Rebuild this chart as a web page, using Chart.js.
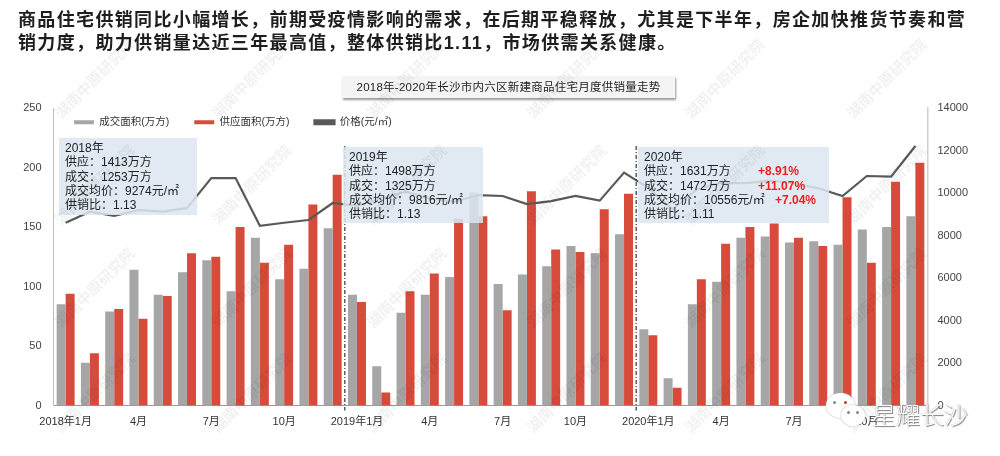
<!DOCTYPE html>
<html lang="zh">
<head>
<meta charset="utf-8">
<script src="https://cdn.jsdelivr.net/npm/chart.js@4/dist/chart.umd.min.js"></script>
<style>
html,body{margin:0;padding:0;background:#fff;width:1000px;height:456px;overflow:hidden}
body{position:relative;font-family:"Liberation Sans","Noto Sans CJK SC",sans-serif;color:#222}
#wrap{position:absolute;left:0;top:0;width:1000px;height:456px}
#head{position:absolute;left:18px;top:9px;width:975px;font-size:18px;font-weight:700;line-height:23px;letter-spacing:1.35px;color:#1e1e1e;font-family:"Liberation Sans","Noto Sans CJK SC",sans-serif}
#title{position:absolute;left:342px;top:76px;width:333px;height:22px;line-height:22px;background:#f4f4f4;box-shadow:1px 2px 2px #999;text-align:center;font-size:11.5px;color:#222;letter-spacing:.25px}
.note{position:absolute;background:rgba(220,230,241,.86);font-size:12px;line-height:14.3px;color:#222;padding:3px 0 0 6px;box-sizing:border-box;white-space:pre}
#n0{left:59px;top:138px;width:138px;height:77px}
#n1{left:343px;top:147px;width:140px;height:76px}
#n2{left:638px;top:147px;width:191px;height:76px}
.up{position:absolute;color:#f21c1c;font-size:12px;font-weight:700}
.wm{position:absolute;font-size:15px;font-weight:700;color:#000;opacity:.055;transform:translate(-50%,-50%) rotate(-45deg);white-space:nowrap;pointer-events:none}
.bub{position:absolute;background:#fff;border-radius:50%;box-shadow:0 0 2px #aaa}
.eye{position:absolute;width:3px;height:3px;border-radius:50%}
#brand{position:absolute;left:872px;top:396px;font-size:24px;letter-spacing:0;color:#fff;text-shadow:1px 1px 1px #777,-.5px -.5px 0 #bbb;font-family:"Noto Sans CJK SC",sans-serif;font-weight:300;white-space:nowrap}
</style>
</head>
<body>
<div id="wrap"><canvas id="c" width="1000" height="456"></canvas></div>
<div id="head"></div>
<div id="title"></div>
<div id="notes"></div>
<div id="marks"></div>
<div class="bub" style="left:826px;top:393px;width:29px;height:25px"><i class="eye" style="left:7px;top:8px;background:#888"></i><i class="eye" style="left:18px;top:8px;background:#c33"></i></div>
<div class="bub" style="left:841px;top:405px;width:24px;height:21px"><i class="eye" style="left:6px;top:6px;background:#888"></i><i class="eye" style="left:15px;top:6px;background:#888"></i></div>
<div id="brand"></div>
<script>
const months = ['2018年1月','','','4月','','','7月','','','10月','','',
                '2019年1月','','','4月','','','7月','','','10月','','',
                '2020年1月','','','4月','','','7月','','','10月','',''];
const dealArea = [85,36,79,114,93,112,122,96,141,106,115,149,
                  93,33,78,93,108,179,102,110,117,134,128,144,
                  64,23,85,104,141,142,137,138,135,148,150,159];
const supplyArea = [94,44,81,73,92,128,125,150,120,135,169,194,
                    87,11,96,111,157,159,80,180,131,129,165,178,
                    59,15,106,136,150,153,141,134,175,120,188,204];
const price = [8600,9120,8920,9200,9120,9290,10700,10700,8460,8600,8730,9530,
               9390,9750,10060,9750,9590,9900,9860,9480,9620,9860,9640,10960,
               10240,9230,10170,10490,10460,10580,10460,10220,9860,10800,10770,12210];
const seriesNames = ['成交面积(万方)','供应面积(万方)','价格(元/㎡)'];
const leftTicks = [0,50,100,150,200,250];
const rightTicks = [0,2000,4000,6000,8000,10000,12000,14000];
const headline = ['商品住宅供销同比小幅增长，前期受疫情影响的需求，在后期平稳释放，尤其是下半年，房企加快推货节奏和营',
                  '销力度，助力供销量达近三年最高值，整体供销比1.11，市场供需关系健康。'];
const chartTitle = '2018年-2020年长沙市内六区新建商品住宅月度供销量走势';
const notes2018 = ['2018年','供应：1413万方','成交：1253万方','成交均价：9274元/㎡','供销比：1.13'];
const notes2019 = ['2019年','供应：1498万方','成交：1325万方','成交均价：9816元/㎡','供销比：1.13'];
const notes2020 = ['2020年','供应：1631万方','成交：1472万方','成交均价：10556元/㎡','供销比：1.11'];
const growth2020 = ['+8.91%','+11.07%','+7.04%'];
const watermark = '湖南中原研究院';
const brand = '星耀长沙';
const yearStarts = [12,24];

document.getElementById('head').innerHTML = headline.join('<br>');
document.getElementById('title').textContent = chartTitle;
document.getElementById('brand').textContent = brand;

const notesEl = document.getElementById('notes');
[notes2018,notes2019,notes2020].forEach((lines,i)=>{
  const d=document.createElement('div');d.className='note';d.id='n'+i;d.textContent=lines.join('\n');notesEl.appendChild(d);
});
[[758,164],[758,178.5],[775,193]].forEach((p,i)=>{
  const s=document.createElement('div');s.className='up';s.style.left=p[0]+'px';s.style.top=p[1]+'px';s.textContent=growth2020[i];notesEl.appendChild(s);
});
const marksEl=document.getElementById('marks');
[94,251,406,566,724,886].forEach(x=>[78,184,287,392].forEach(y=>{
  const s=document.createElement('div');s.className='wm';s.style.left=x+'px';s.style.top=y+'px';s.textContent=watermark;marksEl.appendChild(s);
}));

const legendPlacer = {
  id:'legendPlacer',
  beforeLayout(chart){
    const lg=chart.legend;
    if(lg && !lg._patched){
      const f=lg.fit;
      lg.fit=function(){f.call(this);this.height=0;};
      lg._patched=true;
    }
  },
  afterLayout(chart){
    const lg=chart.legend;
    lg.left=49;lg.right=880;lg.top=92;lg.bottom=140;lg.width=831;lg.height=48;
  }
};
const yearLines = {
  id:'yearLines',
  afterDatasetsDraw(chart){
    const {ctx,scales:{x,y}}=chart;
    ctx.save();
    ctx.strokeStyle='#333';ctx.lineWidth=1.2;ctx.setLineDash([4,2,1,2]);
    yearStarts.forEach(i=>{
      const px=(x.getPixelForValue(i-1)+x.getPixelForValue(i))/2;
      ctx.beginPath();ctx.moveTo(px,y.getPixelForValue(218));ctx.lineTo(px,y.bottom+5);ctx.stroke();
    });
    ctx.restore();
  }
};
const font={family:'"Liberation Sans","Noto Sans CJK SC",sans-serif',size:11};
new Chart(document.getElementById('c'),{
  data:{labels:months,datasets:[
    {type:'line',label:seriesNames[2],data:price,yAxisID:'y1',borderColor:'#595959',backgroundColor:'#595959',borderWidth:2.2,pointRadius:0,tension:0,order:0},
    {type:'bar',label:seriesNames[0],data:dealArea,yAxisID:'y',backgroundColor:'#A6A6A6',barPercentage:1,categoryPercentage:.74,order:1},
    {type:'bar',label:seriesNames[1],data:supplyArea,yAxisID:'y',backgroundColor:'#D64B3A',barPercentage:1,categoryPercentage:.74,order:1}
  ]},
  options:{
    responsive:false,animation:false,devicePixelRatio:1,
    layout:{padding:{top:108,left:0,right:0,bottom:0}},
    plugins:{
      legend:{display:true,position:'top',align:'start',
        labels:{boxWidth:20,boxHeight:4,padding:25,color:'#333',font:{family:font.family,size:10.5},
          sort:(a,b)=>[2,0,1][a.datasetIndex]-[2,0,1][b.datasetIndex]}},
      tooltip:{enabled:false},title:{display:false}
    },
    scales:{
      x:{grid:{display:false},border:{color:'#9a9a9a'},
        ticks:{autoSkip:false,maxRotation:0,minRotation:0,color:'#333',font,padding:2},
        afterFit(s){s.height=50.5;}},
      y:{position:'left',min:0,max:250,grid:{display:false},border:{color:'#bdbdbd',width:1},
        afterBuildTicks(s){s.ticks=leftTicks.map(v=>({value:v}));},
        ticks:{color:'#444',font,padding:4},
        afterFit(s){s.width=53.5;}},
      y1:{position:'right',min:0,max:14000,grid:{display:false},border:{color:'#d0d0d0',width:1.5},
        afterBuildTicks(s){s.ticks=rightTicks.map(v=>({value:v}));},
        ticks:{color:'#444',font,padding:2,callback:v=>String(v)},
        afterFit(s){s.width=72.5;}}
    }
  },
  plugins:[legendPlacer,yearLines]
});
</script>
</body>
</html>
